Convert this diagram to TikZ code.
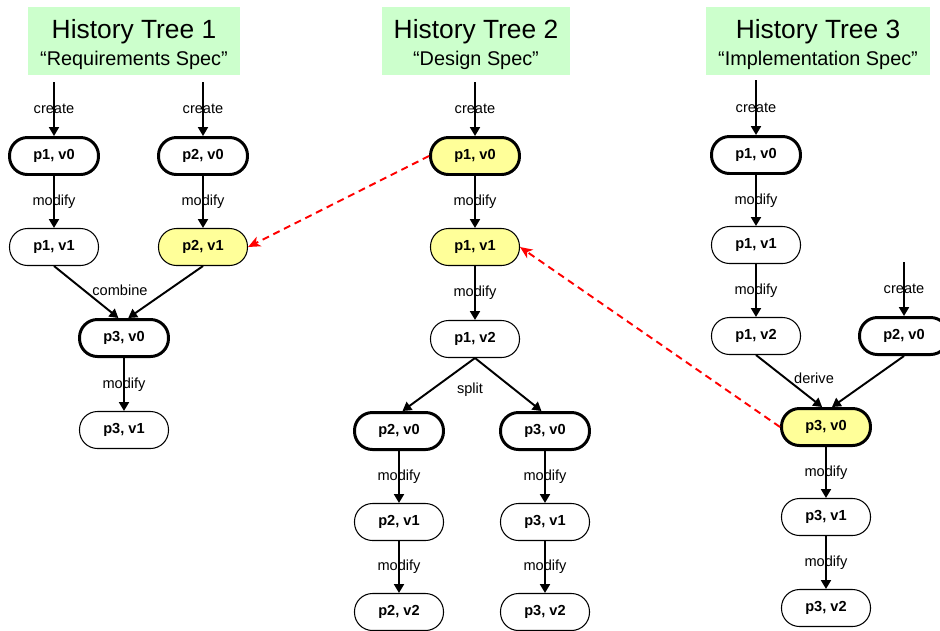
\documentclass[tikz,border=0pt]{standalone}
\usepackage{fontspec}
\setmainfont{Liberation Sans}
\usetikzlibrary{arrows.meta}
\definecolor{titlegreen}{HTML}{CCFFCC}
\definecolor{hlyellow}{HTML}{FFFF99}
\tikzset{
  ver/.style={draw, line width=0.6pt, rounded corners=0.36cm,
              minimum width=1.78cm, minimum height=0.74cm, inner sep=0pt,
              font=\fontsize{8.3pt}{10pt}\selectfont\bfseries, fill=white},
  flow/.style={line width=1.1pt, -{Triangle[width=5.6pt,length=5pt]}}
}

\begin{document}
\begin{tikzpicture}[
  x=0.02cm, y=-0.02cm,
  % first version of a part: heavy outline
  root/.style   = {ver, line width=1.7pt},
  % version that is linked across trees
  shared/.style = {fill=hlyellow},
  % tree heading
  head/.style   = {fill=titlegreen, minimum height=1.36cm, inner xsep=0.24cm,
                   align=center, font=\fontsize{15pt}{17pt}\selectfont},
  lbl/.style    = {font=\fontsize{8.3pt}{10pt}\selectfont, inner sep=0pt},
  % dependency between trees
  trace/.style  = {red, line width=1.1pt, dash pattern=on 4pt off 2.8pt,
                   -{Stealth[length=7pt,width=6pt,inset=2pt]}},
]
\useasboundingbox (0,0) rectangle (940,630);

% ──────────────────────────
%  Tree 1: requirements
% ──────────
\node[head] (head1) at (134,41)
  {\rule{0pt}{15pt}History Tree 1\\[-2pt]{\fontsize{11.3pt}{13pt}\selectfont ``Requirements Spec''}};
\coordinate (t1in1) at (54,82);
\coordinate (t1in2) at (203,82);

\node[root] (t1p1v0) at (54,156) {p1, v0};
\node[root] (t1p2v0) at (203,156) {p2, v0};
\node[ver] (t1p1v1) at (54,247) {p1, v1};
\node[ver, shared] (t1p2v1) at (203,247) {p2, v1};
\node[root] (t1p3v0) at (124,338) {p3, v0};
\node[ver] (t1p3v1) at (124,430) {p3, v1};

\draw[flow] (t1in1) -- node[lbl] {create} (t1p1v0);
\draw[flow] (t1in2) -- node[lbl] {create} (t1p2v0);
\draw[flow] (t1p1v0) -- node[lbl] {modify} (t1p1v1);
\draw[flow] (t1p2v0) -- node[lbl] {modify} (t1p2v1);
\draw[flow] (t1p1v1.south) -- ([xshift=-3.2pt]t1p3v0.north);
\draw[flow] (t1p2v1.south) -- ([xshift=2.4pt]t1p3v0.north);
\node[lbl] (t1comb) at (120,290) {combine};
\draw[flow] (t1p3v0) -- node[lbl] {modify} (t1p3v1);

% ──────────────────────────
%  Tree 2: design
% ──────────
\node[head] (head2) at (476,41)
  {\rule{0pt}{15pt}History Tree 2\\[-2pt]{\fontsize{11.3pt}{13pt}\selectfont ``Design Spec''}};
\coordinate (t2in) at (475,82);

\node[root, shared] (t2p1v0) at (475,156) {p1, v0};
\node[ver, shared] (t2p1v1) at (475,247) {p1, v1};
\node[ver] (t2p1v2) at (475,339) {p1, v2};
\node[root] (t2p2v0) at (399,431) {p2, v0};
\node[root] (t2p3v0) at (545,431) {p3, v0};
\node[ver] (t2p2v1) at (399,522) {p2, v1};
\node[ver] (t2p3v1) at (545,522) {p3, v1};
\node[ver] (t2p2v2) at (399,612) {p2, v2};
\node[ver] (t2p3v2) at (545,612) {p3, v2};

\draw[flow] (t2in) -- node[lbl] {create} (t2p1v0);
\draw[flow] (t2p1v0) -- node[lbl] {modify} (t2p1v1);
\draw[flow] (t2p1v1) -- node[lbl] {modify} (t2p1v2);
\draw[flow] (t2p1v2.south) -- ([xshift=2pt]t2p2v0.north);
\draw[flow] (t2p1v2.south) -- ([xshift=-2pt]t2p3v0.north);
\node[lbl] (t2split) at (470,390) {split};
\foreach \p in {p2,p3} {
  \draw[flow] (t2\p v0) -- node[lbl] {modify} (t2\p v1);
  \draw[flow] (t2\p v1) -- node[lbl] {modify} (t2\p v2);
}

% ──────────────────────────
%  Tree 3: implementation
% ──────────
\node[head] (head3) at (818,41)
  {\rule{0pt}{15pt}History Tree 3\\[-2pt]{\fontsize{11.3pt}{13pt}\selectfont ``Implementation Spec''}};
\coordinate (t3in1) at (756,80);
\coordinate (t3in2) at (904,262);

\node[root] (t3p1v0) at (756,155) {p1, v0};
\node[ver] (t3p1v1) at (756,245) {p1, v1};
\node[ver] (t3p1v2) at (756,336) {p1, v2};
\node[root] (t3p2v0) at (904,336) {p2, v0};
\node[root, shared] (t3p3v0) at (826,427) {p3, v0};
\node[ver] (t3p3v1) at (826,517) {p3, v1};
\node[ver] (t3p3v2) at (826,608) {p3, v2};

\draw[flow] (t3in1) -- node[lbl] {create} (t3p1v0);
\draw[flow] (t3p1v0) -- node[lbl] {modify} (t3p1v1);
\draw[flow] (t3p1v1) -- node[lbl] {modify} (t3p1v2);
\draw[flow] (t3in2) -- node[lbl] {create} (t3p2v0);
\draw[flow] (t3p1v2.south) -- ([xshift=-2.2pt]t3p3v0.north);
\draw[flow] (t3p2v0.south) -- ([xshift=3.4pt]t3p3v0.north);
\node[lbl] (t3der) at (814,378) {derive};
\draw[flow] (t3p3v0) -- node[lbl] {modify} (t3p3v1);
\draw[flow] (t3p3v1) -- node[lbl] {modify} (t3p3v2);

% ──────────────────────────
%  Links between trees
% ──────────
\draw[trace] (t2p1v0.west) -- (t1p2v1.east);
\draw[trace] (t3p3v0.west) -- (t2p1v1.east);

\end{tikzpicture}
\end{document}
